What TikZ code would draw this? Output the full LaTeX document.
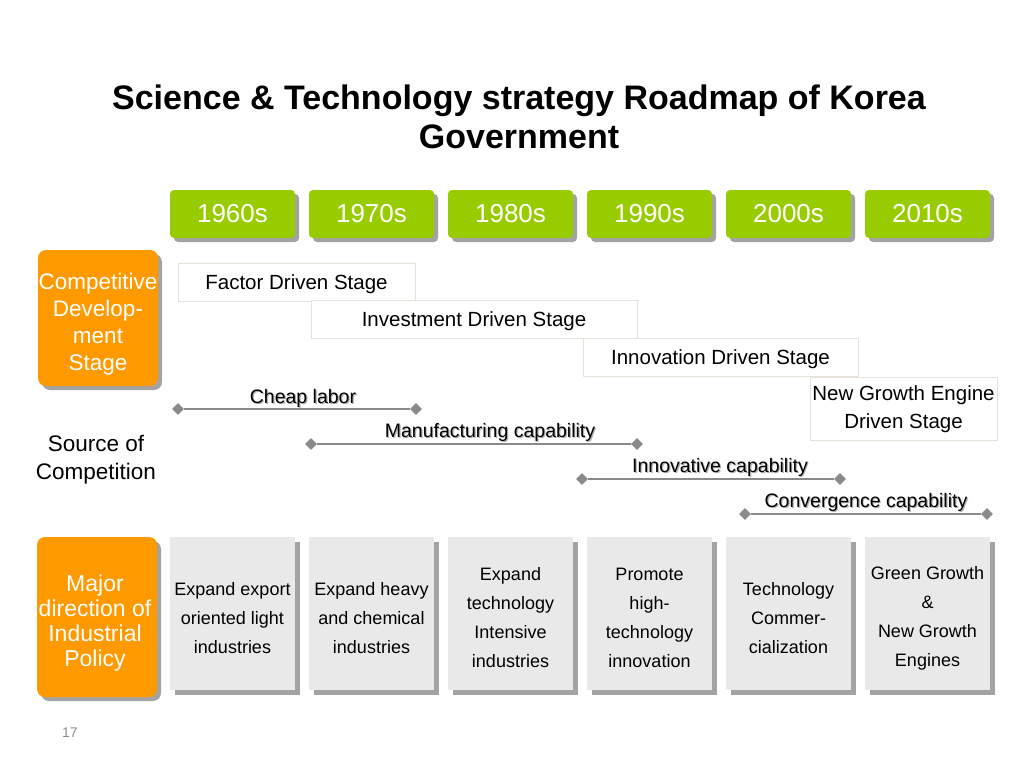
\documentclass[tikz,border=0pt]{standalone}
\usepackage{fontspec}
\setmainfont{Liberation Sans}
\usepackage{tikz}
\usetikzlibrary{shapes.geometric,shadows,positioning}
\definecolor{yeargreen}{HTML}{99CC00}
\definecolor{sideorange}{HTML}{FF9900}
\definecolor{boxgray}{HTML}{E9E9E9}
\definecolor{shadegray}{HTML}{A3A3A3}
\definecolor{linegray}{HTML}{8A8A8A}
\definecolor{stageline}{HTML}{E6E2DA}
\newcommand{\shadowtext}[1]{\rlap{\kern1.2pt\raisebox{-1.2pt}{\color{black!30}#1}}#1}

\begin{document}
\begin{tikzpicture}[x=1pt, y=-1pt,
    yearbox/.style={rectangle, fill=yeargreen, rounded corners=4pt, text=white,
                 minimum width=125pt, minimum height=48pt, font=\fontsize{26}{30}\selectfont,
                 drop shadow={shadow xshift=4pt, shadow yshift=-4pt, fill=shadegray, opacity=1}},
    sidebox/.style={rectangle, fill=sideorange, rounded corners=8pt, text=white, align=center,
                 minimum width=120pt, inner sep=0pt,
                 drop shadow={shadow xshift=4pt, shadow yshift=-4pt, fill=shadegray, opacity=1}},
    stagebox/.style={rectangle, draw=stageline, fill=white, align=center,
                 minimum height=38pt, text height=19pt, text depth=4.5pt,
                 font=\fontsize{20.5}{28}\selectfont},
    policybox/.style={rectangle, fill=boxgray, align=center, minimum width=125pt,
                 minimum height=153pt, font=\fontsize{18}{29}\selectfont,
                 drop shadow={shadow xshift=5pt, shadow yshift=-5pt, fill=shadegray, opacity=1}},
    dia/.style={diamond, fill=linegray, minimum size=12pt, inner sep=0pt},
    capline/.style={draw=linegray, line width=1.5pt},
    caplabel/.style={font=\fontsize{19.5}{22}\selectfont, inner sep=0pt}
]
    \useasboundingbox (0,0) rectangle (1024,768);

    % title
    \node[align=center, font=\bfseries\fontsize{34}{39}\selectfont] (title) at (519,117)
        {Science \& Technology strategy Roadmap of Korea\\Government};

    % decades
    \foreach \yr [count=\i from 0] in {1960s,1970s,1980s,1990s,2000s,2010s}
        \node[yearbox] (y\i) at (232.5+139*\i,214) {\yr};

    % left column
    \node[sidebox, minimum height=136pt] (cds) at (98,318) {};
    \node[text=white, align=center, font=\fontsize{22.5}{27}\selectfont] (cdt) at (98,324)
        {Competitive\\Develop-\\ment\\Stage};
    \node[font=\fontsize{22.5}{28}\selectfont, align=center] (src) at (96,460) {Source of\\Competition};
    \node[sidebox, minimum height=160pt] (mdp) at (97,617) {};
    \node[text=white, align=center, font=\fontsize{23}{25}\selectfont] (mdt) at (95,623)
        {Major\\direction of\\Industrial\\Policy};

    % stages
    \node[stagebox, minimum width=237pt] (fds) at (296.5,282) {Factor Driven Stage};
    \node[stagebox, minimum width=326pt] (ids) at (474,319.5) {Investment Driven Stage};
    \node[stagebox, minimum width=275pt] (nds) at (720.5,357) {Innovation Driven Stage};
    \node[stagebox, minimum width=187pt, minimum height=63pt] (gds) at (903.5,408.5) {};
    \node[align=center, font=\fontsize{20.5}{28}\selectfont] (gdt) at (903.5,409)
        {New Growth Engine\\Driven Stage};

    % sources of competition
    \node[dia] (cl1) at (178,409) {};
    \node[dia] (cl2) at (416,409) {};
    \node[dia] (mc1) at (311,444) {};
    \node[dia] (mc2) at (637,444) {};
    \node[dia] (ic1) at (582,479) {};
    \node[dia] (ic2) at (840,479) {};
    \node[dia] (cc1) at (745,514) {};
    \node[dia] (cc2) at (987,514) {};
    \draw[capline] (cl1) -- (cl2);
    \draw[capline] (mc1) -- (mc2);
    \draw[capline] (ic1) -- (ic2);
    \draw[capline] (cc1) -- (cc2);
    \node[caplabel] (cll) at (303,399) {\shadowtext{Cheap labor}};
    \node[caplabel] (mcl) at (490,433) {\shadowtext{Manufacturing capability}};
    \node[caplabel] (icl) at (720,468) {\shadowtext{Innovative capability}};
    \node[caplabel] (ccl) at (866,503) {\shadowtext{Convergence capability}};

    % industrial policy
    \foreach \i/\x/\txt in {0/232.5/{Expand export\\oriented light\\industries},
                            1/371.5/{Expand heavy\\and chemical\\industries},
                            2/510.5/{Expand\\technology\\Intensive\\industries},
                            3/649.5/{Promote\\high-\\technology\\innovation},
                            4/788.5/{Technology\\Commer-\\cialization},
                            5/927.5/{Green Growth\\\&\\New Growth\\Engines}}
    {
        \node[policybox] (p\i) at (\x,613.5) {};
        \node[align=center, font=\fontsize{18}{29}\selectfont] (pt\i) at (\x,618) {\txt};
    }

    \node[text=black!45, font=\fontsize{14}{16}\selectfont] (pg) at (70,733) {17};
\end{tikzpicture}
\end{document}
